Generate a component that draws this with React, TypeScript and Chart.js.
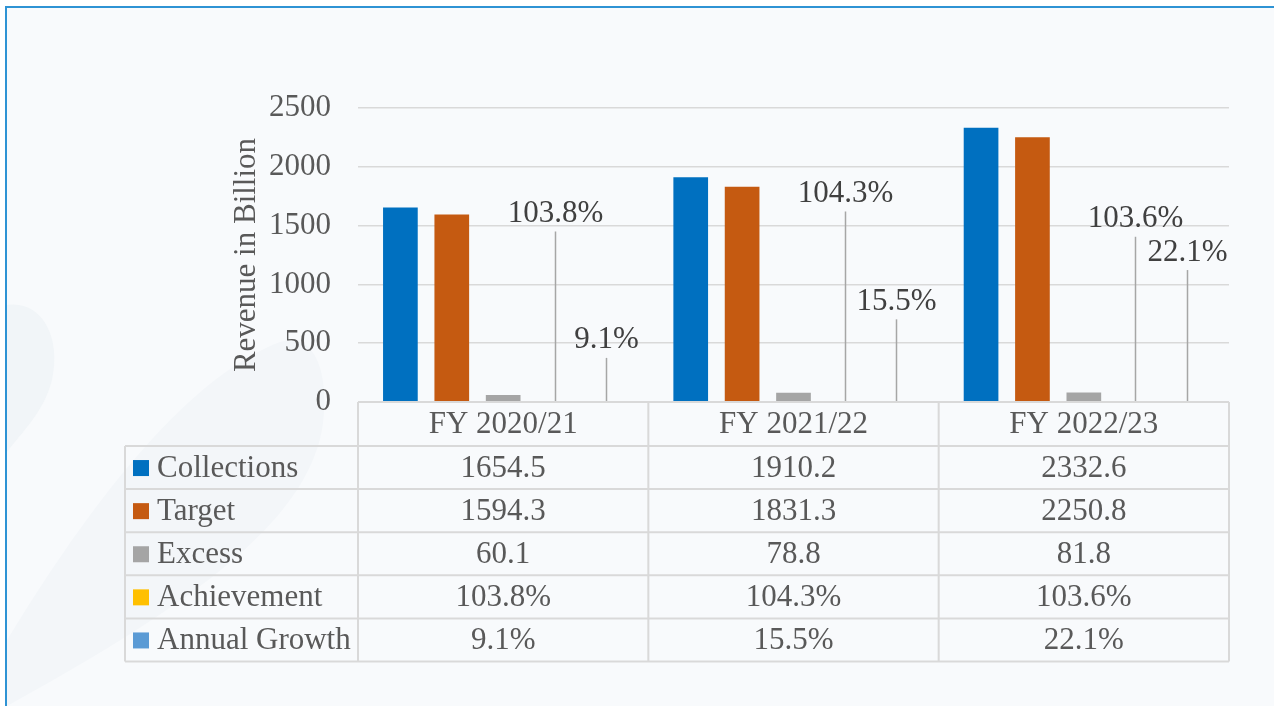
import React, { useEffect, useRef } from "react";
import { Chart, registerables } from "chart.js";

Chart.register(...registerables);

// ---- data ----
const categories = ["FY 2020/21", "FY 2021/22", "FY 2022/23"];
const collections = [1654.5, 1910.2, 2332.6];
const target = [1594.3, 1831.3, 2250.8];
const excess = [60.1, 78.8, 81.8];
const achievement = [103.8, 104.3, 103.6]; // %
const annualGrowth = [9.1, 15.5, 22.1]; // %
// levels (in axis units) where the leader lines of the moved percentage labels end
const achievementLabelLevel = [1450, 1620, 1405];
const growthLabelLevel = [375, 703, 1122];
const yTicks = [0, 500, 1000, 1500, 2000, 2500];

const seriesNames = ["Collections", "Target", "Excess", "Achievement", "Annual Growth"];
const seriesColors = ["#0070C0", "#C55A11", "#A5A5A5", "#FFC000", "#5B9BD5"];

const FONT = "'Liberation Serif', 'Times New Roman', serif";
const FS = 31;
const TEXT = "#595959";
const LABEL = "#404040";
const GRID = "#D9D9D9";

const labelsPlugin = {
  id: "movedLabels",
  afterDatasetsDraw(chart: any) {
    const ctx = chart.ctx as CanvasRenderingContext2D;
    const y = chart.scales.y;
    const y0 = y.getPixelForValue(0);
    const groups: [number, number[], number[]][] = [
      [3, achievement, achievementLabelLevel],
      [4, annualGrowth, growthLabelLevel],
    ];
    ctx.save();
    for (const [di, vals, levels] of groups) {
      const meta = chart.getDatasetMeta(di);
      meta.data.forEach((bar: any, j: number) => {
        const bx = Math.round(bar.x) + 0.5;
        const top = y.getPixelForValue(levels[j]);
        ctx.strokeStyle = "#A6A6A6";
        ctx.lineWidth = 1.5;
        ctx.beginPath();
        ctx.moveTo(bx, y0);
        ctx.lineTo(bx, top);
        ctx.stroke();
        ctx.fillStyle = LABEL;
        ctx.font = `${FS}px ${FONT}`;
        ctx.textAlign = "center";
        ctx.textBaseline = "alphabetic";
        ctx.fillText(vals[j].toFixed(1) + "%", bx, top - 9.5);
      });
    }
    ctx.restore();
  },
};

const tablePlugin = {
  id: "dataTable",
  afterDraw(chart: any) {
    const ctx = chart.ctx as CanvasRenderingContext2D;
    const area = chart.chartArea;
    const n = categories.length;
    const colW = (area.right - area.left) / n;
    const headerH = 44;
    const rowH = 43.1;
    const tableLeft = 125;
    const top = area.bottom;
    const rowsTop = top + headerH;
    const rows = [
      collections.map((v) => v.toFixed(1)),
      target.map((v) => v.toFixed(1)),
      excess.map((v) => v.toFixed(1)),
      achievement.map((v) => v.toFixed(1) + "%"),
      annualGrowth.map((v) => v.toFixed(1) + "%"),
    ];
    const bottom = rowsTop + rowH * rows.length;

    ctx.save();
    ctx.strokeStyle = GRID;
    ctx.lineWidth = 2;
    ctx.beginPath();
    ctx.moveTo(area.left, top);
    ctx.lineTo(area.right, top);
    for (let r = 0; r <= rows.length; r++) {
      const yy = rowsTop + rowH * r;
      ctx.moveTo(tableLeft, yy);
      ctx.lineTo(area.right, yy);
    }
    ctx.moveTo(tableLeft, rowsTop);
    ctx.lineTo(tableLeft, bottom);
    for (let c = 0; c <= n; c++) {
      const xx = area.left + colW * c;
      ctx.moveTo(xx, top);
      ctx.lineTo(xx, bottom);
    }
    ctx.stroke();

    ctx.font = `${FS}px ${FONT}`;
    ctx.fillStyle = TEXT;
    ctx.textBaseline = "middle";
    ctx.textAlign = "center";
    categories.forEach((cat, c) => {
      ctx.fillText(cat, area.left + colW * (c + 0.5), top + headerH / 2 + 1);
    });
    rows.forEach((vals, r) => {
      const cy = rowsTop + rowH * (r + 0.5) + 1;
      ctx.textAlign = "center";
      ctx.fillStyle = TEXT;
      vals.forEach((v, c) => {
        ctx.fillText(v, area.left + colW * (c + 0.5), cy);
      });
      ctx.fillStyle = seriesColors[r];
      ctx.fillRect(133, cy - 8.5, 16, 16);
      ctx.fillStyle = TEXT;
      ctx.textAlign = "left";
      ctx.fillText(seriesNames[r], 157, cy);
    });
    ctx.restore();
  },
};

export default function App() {
  const ref = useRef<HTMLCanvasElement>(null);

  useEffect(() => {
    if (!ref.current) return;
    Chart.defaults.font.family = FONT;
    const chart = new Chart(ref.current, {
      type: "bar",
      data: {
        labels: categories,
        datasets: [
          { label: seriesNames[0], data: collections, backgroundColor: seriesColors[0] },
          { label: seriesNames[1], data: target, backgroundColor: seriesColors[1] },
          { label: seriesNames[2], data: excess, backgroundColor: seriesColors[2] },
          { label: seriesNames[3], data: achievement.map((v) => v / 100), backgroundColor: "rgba(0,0,0,0)" },
          { label: seriesNames[4], data: annualGrowth.map((v) => v / 100), backgroundColor: "rgba(0,0,0,0)" },
        ],
      },
      options: {
        animation: false,
        responsive: true,
        maintainAspectRatio: false,
        datasets: {
          bar: { categoryPercentage: 0.885, barPercentage: 0.675 },
        } as any,
        layout: { padding: { left: 228, right: 45, top: 108, bottom: 304 } },
        plugins: {
          legend: { display: false },
          tooltip: { enabled: false },
        },
        scales: {
          x: { display: false },
          y: {
            min: 0,
            max: 2500,
            afterBuildTicks: (s: any) => {
              s.ticks = yTicks.map((v) => ({ value: v }));
            },
            afterFit: (s: any) => {
              s.width = 130;
            },
            border: { display: false },
            grid: { color: GRID, lineWidth: 1.5, drawTicks: false },
            ticks: {
              color: TEXT,
              font: { size: FS, family: FONT },
              padding: 27,
              callback: (v: any) => String(v),
            },
            title: {
              display: true,
              text: "Revenue in Billion",
              color: TEXT,
              font: { size: FS, family: FONT },
              padding: 0,
            },
          },
        },
      },
      plugins: [labelsPlugin, tablePlugin],
    });
    return () => chart.destroy();
  }, []);

  return (
    <div
      style={{
        position: "absolute",
        left: 0,
        top: 0,
        width: 1274,
        height: 706,
        background: "#FFFFFF",
        overflow: "hidden",
      }}
    >
      <div
        style={{
          position: "absolute",
          left: 5,
          top: 6,
          width: 1290,
          height: 720,
          background: "#F8FAFC",
          borderTop: "2px solid #2E93D4",
          borderLeft: "2px solid #2E93D4",
          overflow: "hidden",
        }}
      />
      <svg
        width={1274}
        height={706}
        style={{ position: "absolute", left: 0, top: 0 }}
      >
        <path d="M7,305 C40,300 62,335 52,380 C44,412 22,432 7,452 Z" fill="#F1F5F8" />
        <path
          d="M7,640 C80,520 180,380 280,342 C318,330 330,380 322,430 C305,520 200,600 7,706 Z"
          fill="#F3F6F9"
        />
      </svg>
      <div style={{ position: "absolute", left: 0, top: 0, width: 1274, height: 706 }}>
        <canvas ref={ref} />
      </div>
    </div>
  );
}
